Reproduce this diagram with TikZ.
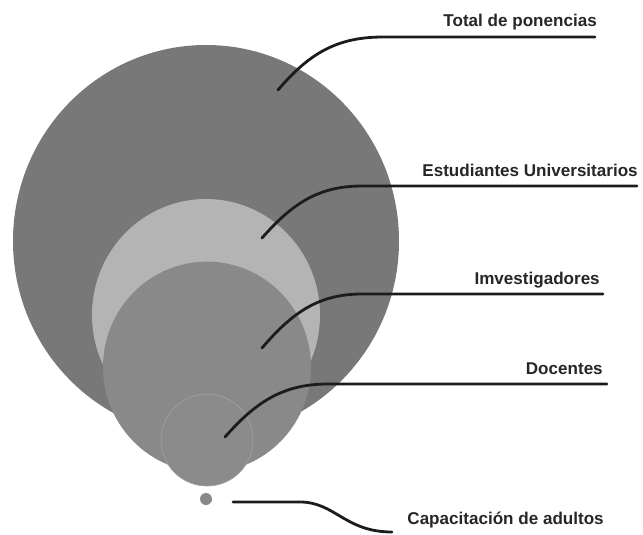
\documentclass[tikz,border=0pt]{standalone}
\usepackage{fontspec}
\setmainfont{Liberation Sans}
\usepackage{tikz}
\usetikzlibrary{shapes.geometric}

\definecolor{totalgray}{HTML}{787878}
\definecolor{estgray}{HTML}{B4B4B4}
\definecolor{invgray}{HTML}{898989}
\definecolor{docgray}{HTML}{8B8B8B}
\definecolor{leadgray}{HTML}{1C1C1C}

\begin{document}
\begin{tikzpicture}[x=0.75pt,y=-0.75pt]
	\tikzset{bubble/.style={ellipse,inner sep=0pt,draw=none}}
	\tikzstyle{leader}=[line width=2.1pt,leadgray,line cap=round]
	\tikzstyle{tag}=[anchor=base east,inner sep=0pt,font=\bfseries\fontsize{12.8}{14}\selectfont,text=black!85]
	\useasboundingbox (0,0) rectangle (643,535);

	%% Bubbles
	\node[bubble,fill=totalgray,minimum width=289.5pt,minimum height=294pt] (total) at (206,241) {};
	\node[bubble,fill=estgray,minimum width=171pt,minimum height=174pt] (estud) at (206,315) {};
	\node[bubble,fill=invgray,minimum width=156pt,minimum height=158pt] (inves) at (207,367) {};
	\node[circle,inner sep=0pt,fill=docgray,draw=gray!75,line width=0.5pt,minimum size=69pt] (docen) at (207,440) {};
	\node[circle,inner sep=0pt,fill=invgray,minimum size=9pt] (capac) at (206,499) {};

	%% Labels
	\node[tag] (lTotal) at (597,27) {Total de ponencias};
	\node[tag] (lEstud) at (638,176) {Estudiantes Universitarios};
	\node[tag] (lInves) at (600,284) {Imvestigadores};
	\node[tag] (lDocen) at (603,374) {Docentes};
	\node[tag] (lCapac) at (604,524) {Capacitación de adultos};

	%% Leader lines
	\coordinate (pTotal) at (278,90);
	\coordinate (eTotal) at (595,37);
	\coordinate (pEstud) at (262,238);
	\coordinate (eEstud) at (637,186);
	\coordinate (pInves) at (262,348);
	\coordinate (eInves) at (603,294);
	\coordinate (pDocen) at (225,437);
	\coordinate (eDocen) at (607,384);
	\coordinate (pCapac) at (233,502);
	\coordinate (eCapac) at (392,532);

	\draw[leader] (pTotal) .. controls (308,55) and (335,37) .. (383,37) -- (eTotal);
	\draw[leader] (pEstud) .. controls (292,204) and (318,186) .. (362,186) -- (eEstud);
	\draw[leader] (pInves) .. controls (292,313) and (318,294) .. (362,294) -- (eInves);
	\draw[leader] (pDocen) .. controls (255,403) and (282,384) .. (328,384) -- (eDocen);
	\draw[leader] (pCapac) -- (300,502) .. controls (335,502) and (345,532) .. (eCapac);
\end{tikzpicture}
\end{document}
